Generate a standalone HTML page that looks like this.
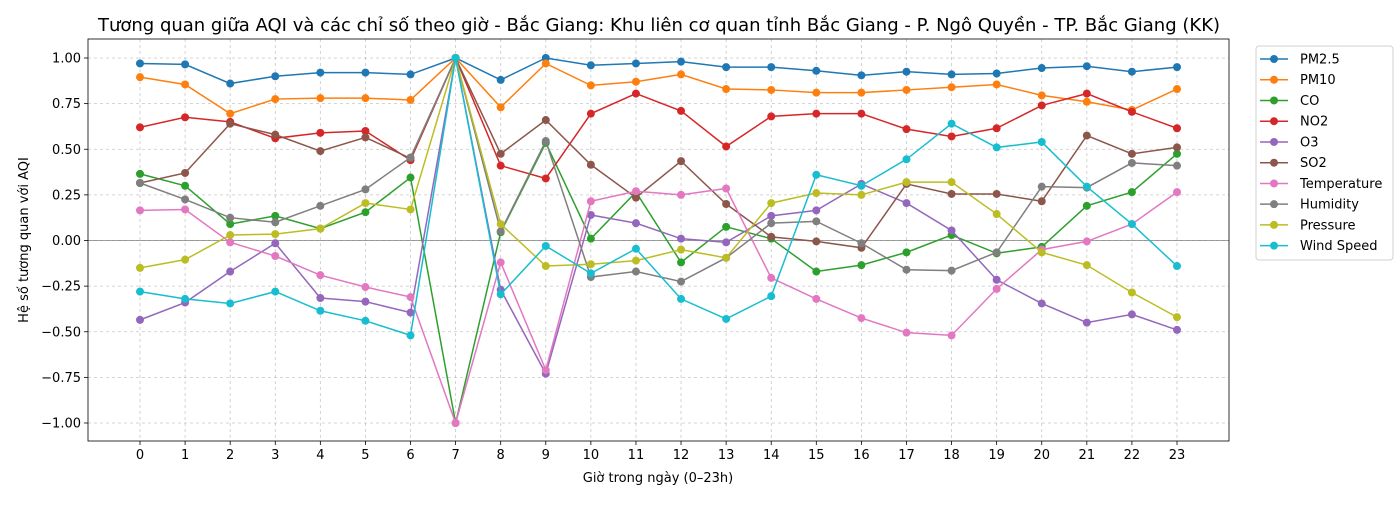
<!DOCTYPE html>
<html><head><meta charset="utf-8"><style>
body{margin:0;background:#fff;}
svg text{font-family:"DejaVu Sans","Liberation Sans",sans-serif;}
</style></head><body>
<svg id="chart" width="1400" height="500" xmlns="http://www.w3.org/2000/svg"></svg>
<script>
const hours=[0,1,2,3,4,5,6,7,8,9,10,11,12,13,14,15,16,17,18,19,20,21,22,23];
const yTicks=[1.00,0.75,0.50,0.25,0.00,-0.25,-0.50,-0.75,-1.00];
const seriesNames=["PM2.5","PM10","CO","NO2","O3","SO2","Temperature","Humidity","Pressure","Wind Speed"];
const seriesColors=["#1f77b4","#ff7f0e","#2ca02c","#d62728","#9467bd","#8c564b","#e377c2","#7f7f7f","#bcbd22","#17becf"];
const pm25=[0.97,0.965,0.86,0.90,0.92,0.92,0.91,1.0,0.88,1.0,0.96,0.97,0.98,0.95,0.95,0.93,0.905,0.925,0.91,0.915,0.945,0.955,0.925,0.95];
const pm10=[0.895,0.855,0.695,0.775,0.78,0.78,0.77,1.0,0.73,0.97,0.85,0.87,0.91,0.83,0.825,0.81,0.81,0.825,0.84,0.855,0.795,0.76,0.715,0.83];
const co=[0.365,0.30,0.09,0.135,0.065,0.155,0.345,-1.0,0.045,0.535,0.01,0.265,-0.12,0.075,0.01,-0.17,-0.135,-0.065,0.03,-0.07,-0.035,0.19,0.265,0.475];
const no2=[0.62,0.675,0.65,0.56,0.59,0.60,0.44,1.0,0.41,0.34,0.695,0.805,0.71,0.515,0.68,0.695,0.695,0.61,0.57,0.615,0.74,0.805,0.705,0.615];
const o3=[-0.435,-0.34,-0.17,-0.015,-0.315,-0.335,-0.395,1.0,-0.27,-0.73,0.14,0.095,0.01,-0.01,0.135,0.165,0.31,0.205,0.055,-0.215,-0.345,-0.45,-0.405,-0.49];
const so2=[0.315,0.37,0.64,0.58,0.49,0.565,0.45,1.0,0.475,0.66,0.415,0.235,0.435,0.2,0.02,-0.005,-0.04,0.31,0.255,0.255,0.215,0.575,0.475,0.51];
const temperature=[0.165,0.17,-0.01,-0.085,-0.19,-0.255,-0.31,-1.0,-0.12,-0.71,0.215,0.27,0.25,0.285,-0.205,-0.32,-0.425,-0.505,-0.52,-0.265,-0.05,-0.005,0.09,0.265];
const humidity=[0.315,0.225,0.125,0.10,0.19,0.28,0.455,1.0,0.05,0.545,-0.20,-0.17,-0.225,-0.095,0.095,0.105,-0.015,-0.16,-0.165,-0.065,0.295,0.29,0.425,0.41];
const pressure=[-0.15,-0.105,0.03,0.035,0.065,0.205,0.17,1.0,0.09,-0.14,-0.13,-0.11,-0.05,-0.095,0.205,0.26,0.25,0.32,0.32,0.145,-0.065,-0.135,-0.285,-0.42];
const windSpeed=[-0.28,-0.32,-0.345,-0.28,-0.385,-0.44,-0.52,1.0,-0.295,-0.03,-0.18,-0.045,-0.32,-0.43,-0.305,0.36,0.30,0.445,0.64,0.51,0.54,0.295,0.09,-0.14];
const seriesValues=[pm25,pm10,co,no2,o3,so2,temperature,humidity,pressure,windSpeed];

const NS="http://www.w3.org/2000/svg";
const svg=document.getElementById('chart');
const L=88,R=1229,T=39,B=441;
const xS=h=>140+(h-hours[0])*(1177-140)/(hours[hours.length-1]-hours[0]);
const yS=v=>240.5-v*182.5;
function mk(tag,a,parent){const e=document.createElementNS(NS,tag);for(const k in a)e.setAttribute(k,a[k]);(parent||svg).appendChild(e);return e;}

const title=mk('text',{x:659,y:31,'text-anchor':'middle','font-size':18,fill:'#000'});


title.textContent='Tương quan giữa AQI và các chỉ số theo giờ - Bắc Giang: Khu liên cơ quan tỉnh Bắc Giang - P. Ngô Quyền - TP. Bắc Giang (KK)';

const grid=mk('g',{});


hours.forEach(h=>{
  mk('line',{x1:xS(h),x2:xS(h),y1:T,y2:B,stroke:'#b0b0b0','stroke-width':0.8,'stroke-dasharray':'3,3',opacity:0.7},grid);
  mk('line',{x1:xS(h),x2:xS(h),y1:B,y2:B+4,stroke:'#000','stroke-width':0.8});
  const t=mk('text',{x:xS(h),y:B+18,'text-anchor':'middle','font-size':13});
  
  
  t.textContent=h;
});
yTicks.forEach(v=>{
  mk('line',{x1:L,x2:R,y1:yS(v),y2:yS(v),stroke:'#b0b0b0','stroke-width':0.8,'stroke-dasharray':'3,3',opacity:0.7},grid);
  mk('line',{x1:L-4,x2:L,y1:yS(v),y2:yS(v),stroke:'#000','stroke-width':0.8});
  const t=mk('text',{x:L-7,y:yS(v)+4.5,'text-anchor':'end','font-size':13});
  
  
  t.textContent=(v<0?'\u2212'+Math.abs(v).toFixed(2):v.toFixed(2));
});
mk('line',{x1:L,x2:R,y1:yS(0),y2:yS(0),stroke:'#808080','stroke-width':0.8});

seriesValues.forEach((vals,i)=>{
  const g=mk('g',{});
  
  
  mk('polyline',{points:vals.map((v,j)=>xS(hours[j])+','+yS(v)).join(' '),fill:'none',stroke:seriesColors[i],'stroke-width':1.5},g);
  vals.forEach((v,j)=>{
    const c=mk('circle',{cx:xS(hours[j]),cy:yS(v),r:4,fill:seriesColors[i]},g);
    
    
  });
});

mk('rect',{x:L,y:T,width:R-L,height:B-T,fill:'none',stroke:'#000','stroke-width':0.8});

const xl=mk('text',{x:658,y:482,'text-anchor':'middle','font-size':13});


xl.textContent='Giờ trong ngày (0–23h)';
const yl=mk('text',{x:28,y:240,'text-anchor':'middle','font-size':13,transform:'rotate(-90 28 240)'});


yl.textContent='Hệ số tương quan với AQI';

const leg=mk('g',{});


mk('rect',{x:1256,y:46,width:137,height:214,rx:3,fill:'#fff',stroke:'#d0d0d0','stroke-width':1},leg);
seriesNames.forEach((n,i)=>{
  const y=59+i*20.74;
  const e=mk('g',{},leg);
  
  
  mk('line',{x1:1260,x2:1288,y1:y,y2:y,stroke:seriesColors[i],'stroke-width':1.5},e);
  mk('circle',{cx:1274,cy:y,r:4,fill:seriesColors[i]},e);
  const t=mk('text',{x:1300,y:y+4.5,'font-size':13},e);
  t.textContent=n;
});
</script>
</body></html>
